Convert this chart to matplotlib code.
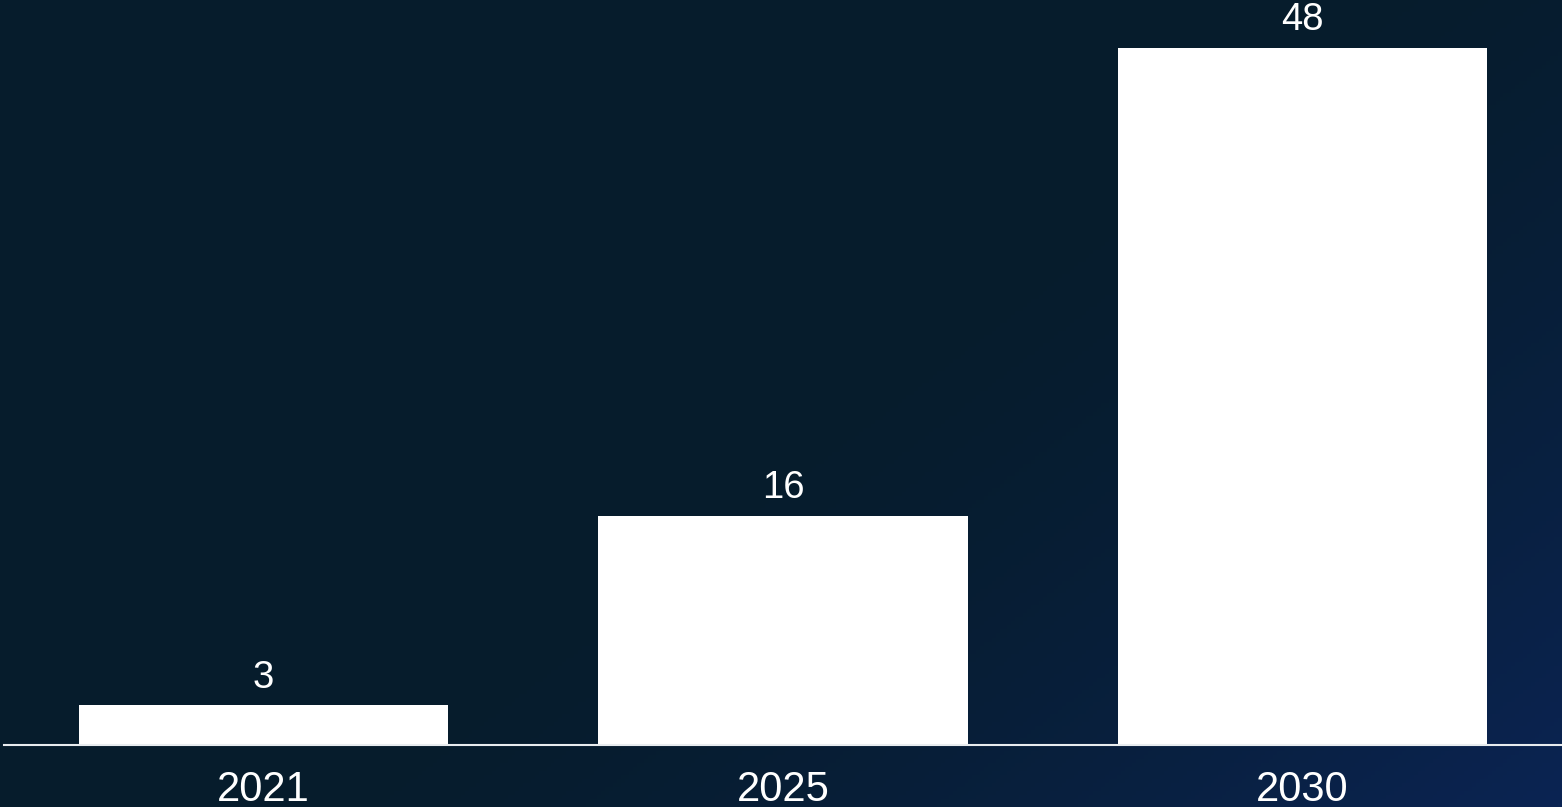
import numpy as np
import matplotlib
matplotlib.use("Agg")
import matplotlib.pyplot as plt
from matplotlib.colors import LinearSegmentedColormap

years = ["2021", "2025", "2030"]
values = [2.75, 15.8, 48]
value_labels = ["3", "16", "48"]

W, H, DPI = 1562, 807, 100
plt.rcParams['font.family'] = ['Liberation Sans', 'DejaVu Sans']
fig = plt.figure(figsize=(W / DPI, H / DPI), dpi=DPI)

# background gradient
bg = fig.add_axes([0, 0, 1, 1], zorder=-10)
xx, yy = np.meshgrid(np.linspace(0, 1, 400), np.linspace(0, 1, 200))
t = np.clip((xx * 0.6 + yy * 0.4 - 0.5) / 0.5, 0, 1) ** 1.5
cmap = LinearSegmentedColormap.from_list("bg", ["#061c2c", "#0b2453"])
bg.imshow(t, cmap=cmap, aspect="auto", extent=[0, 1, 0, 1], origin="upper", vmin=0, vmax=1)
bg.axis("off")

ax = fig.add_axes([4 / W, 62 / H, (W - 4) / W, 745 / H])
ax.patch.set_alpha(0)
x = np.arange(len(years))
bars = ax.bar(x, values, width=0.711, color="white", edgecolor="none")
for xi, v, lab in zip(x, values, value_labels):
    ax.text(xi, v + 0.65, lab, ha="center", va="bottom", color="white", fontsize=27.5)

ax.set_xlim(-0.5, 2.5)
ax.set_ylim(0, 51.3)
ax.set_xticks(x)
ax.set_xticklabels(years, fontsize=30, color="white")
ax.tick_params(axis="x", length=0, pad=18)
ax.set_yticks([])
for s in ["top", "right", "left"]:
    ax.spines[s].set_visible(False)
ax.spines["bottom"].set_color("#e8ecef")
ax.spines["bottom"].set_linewidth(1.5)

fig.savefig("out.png", dpi=DPI)
